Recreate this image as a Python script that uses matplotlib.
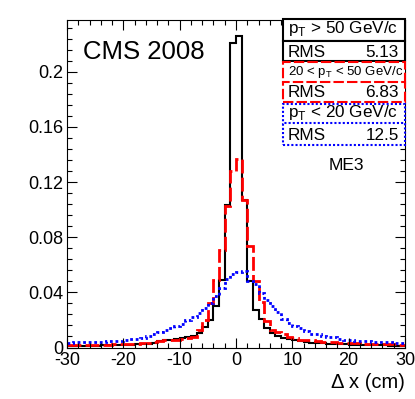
import numpy as np
import matplotlib.pyplot as plt
from matplotlib.patches import Rectangle
from matplotlib.ticker import MultipleLocator

plt.rcParams['font.family'] = ['Liberation Sans', 'DejaVu Sans']
plt.rcParams['mathtext.fontset'] = 'custom'
plt.rcParams['mathtext.rm'] = 'Liberation Sans'
plt.rcParams['axes.unicode_minus'] = False

# lower bin edges, 1 cm bins from -30 to 30
dx = np.arange(-30, 30)

# pT > 50 GeV/c
black = [0.0010, 0.0010, 0.0010, 0.0012, 0.0012, 0.0012, 0.0015, 0.0015, 0.0015, 0.0018,
         0.0018, 0.0020, 0.0022, 0.0025, 0.0028, 0.0035, 0.0045, 0.0052, 0.0054, 0.0060,
         0.0068, 0.0075, 0.0086, 0.0105, 0.0150, 0.0200, 0.0300, 0.0487, 0.1030, 0.2210,
         0.2260, 0.1070, 0.0480, 0.0270, 0.0210, 0.0140, 0.0105, 0.0080, 0.0070, 0.0060,
         0.0052, 0.0045, 0.0040, 0.0035, 0.0032, 0.0030, 0.0027, 0.0025, 0.0024, 0.0022,
         0.0020, 0.0020, 0.0018, 0.0018, 0.0016, 0.0015, 0.0015, 0.0014, 0.0013, 0.0012]

# 20 < pT < 50 GeV/c
red = [0.0015, 0.0015, 0.0016, 0.0016, 0.0018, 0.0018, 0.0020, 0.0020, 0.0022, 0.0022,
       0.0025, 0.0025, 0.0028, 0.0030, 0.0035, 0.0042, 0.0050, 0.0054, 0.0056, 0.0058,
       0.0065, 0.0072, 0.0078, 0.0125, 0.0200, 0.0320, 0.0490, 0.0707, 0.1026, 0.1280,
       0.1365, 0.1070, 0.0736, 0.0480, 0.0330, 0.0190, 0.0125, 0.0115, 0.0100, 0.0078,
       0.0070, 0.0056, 0.0054, 0.0054, 0.0050, 0.0042, 0.0040, 0.0038, 0.0036, 0.0034,
       0.0030, 0.0030, 0.0028, 0.0028, 0.0026, 0.0025, 0.0024, 0.0022, 0.0022, 0.0020]

# pT < 20 GeV/c
blue = [0.0036, 0.0037, 0.0037, 0.0038, 0.0038, 0.0040, 0.0042, 0.0046, 0.0047, 0.0050,
        0.0056, 0.0060, 0.0062, 0.0070, 0.0080, 0.0095, 0.0115, 0.0130, 0.0144, 0.0155,
        0.0170, 0.0200, 0.0223, 0.0250, 0.0285, 0.0320, 0.0370, 0.0430, 0.0500, 0.0535,
        0.0550, 0.0555, 0.0480, 0.0460, 0.0395, 0.0345, 0.0300, 0.0260, 0.0210, 0.0180,
        0.0156, 0.0139, 0.0118, 0.0100, 0.0095, 0.0080, 0.0078, 0.0075, 0.0062, 0.0058,
        0.0052, 0.0050, 0.0048, 0.0045, 0.0040, 0.0039, 0.0038, 0.0037, 0.0034, 0.0036]

labels = [r"p$_\mathregular{T}$ > 50 GeV/c",
          r"20 < p$_\mathregular{T}$ < 50 GeV/c",
          r"p$_\mathregular{T}$ < 20 GeV/c"]
rms = ["5.13", "6.83", "12.5"]

yticks = [0, 0.04, 0.08, 0.12, 0.16, 0.2]
yticklabels = ["0", "0.04", "0.08", "0.12", "0.16", "0.2"]

edges = np.append(dx, dx[-1] + 1)

W, H = 415, 399
def fx(x):
    return x / W
def fy(y):
    return 1 - y / H

fig = plt.figure(figsize=(W / 100, H / 100), dpi=100)
ax = fig.add_axes([fx(67), fy(347.5), (405 - 67) / W, (347.5 - 20) / H])

ax.stairs(black, edges, color='black', lw=1.5, baseline=None)
ax.stairs(red, edges, color='red', lw=2, linestyle=(0, (5, 1.5)), baseline=None)
ax.stairs(blue, edges, color='blue', lw=2, linestyle=(0, (1, 1)), baseline=None)

ax.set_xlim(-30, 30)
ax.set_ylim(0, 0.2375)
ax.set_xticks([-30, -20, -10, 0, 10, 20, 30])
ax.set_yticks(yticks)
ax.set_yticklabels(yticklabels)
ax.xaxis.set_minor_locator(MultipleLocator(2))
ax.yaxis.set_minor_locator(MultipleLocator(0.008))
ax.tick_params(which='both', direction='in', top=True, right=True, labelsize=13, width=0.8)
ax.tick_params(which='major', length=7)
ax.tick_params(which='minor', length=3.5)
ax.tick_params(axis='x', pad=3)
ax.tick_params(axis='y', pad=2.5)
for s in ax.spines.values():
    s.set_linewidth(0.8)

fig.text(fx(405), fy(388), "Δ x (cm)", ha='right', va='baseline', fontsize=14.5)
fig.text(fx(83), fy(59.3), "CMS 2008", ha='left', va='baseline', fontsize=18.5)
fig.text(fx(346), fy(170), "ME3", ha='center', va='baseline', fontsize=12.5)

# stat boxes
boxes = [(19, 40.5, 'black', '-'), (40.5, 60.5, 'black', '-'),
         (62, 82.5, 'red', (0, (5, 1.5))), (82.5, 102, 'red', (0, (5, 1.5))),
         (103.5, 123.5, 'blue', (0, (1, 1))), (123.5, 145, 'blue', (0, (1, 1)))]
for y0, y1, c, ls in boxes:
    fig.add_artist(Rectangle((fx(283), fy(y1)), (405 - 283) / W, (y1 - y0) / H,
                             transform=fig.transFigure, facecolor='white',
                             edgecolor=c, lw=1.5, linestyle=ls))

fig.text(fx(288), fy(33.5), labels[0], fontsize=12.3, va='baseline')
fig.text(fx(288), fy(75), labels[1], fontsize=9.5, va='baseline')
fig.text(fx(288), fy(117), labels[2], fontsize=12.3, va='baseline')
for yb, r in zip([57.3, 97, 140], rms):
    fig.text(fx(288), fy(yb), "RMS", fontsize=12.3, va='baseline')
    fig.text(fx(399), fy(yb), r, fontsize=12.3, va='baseline', ha='right')

fig.savefig("out.png", dpi=100)
